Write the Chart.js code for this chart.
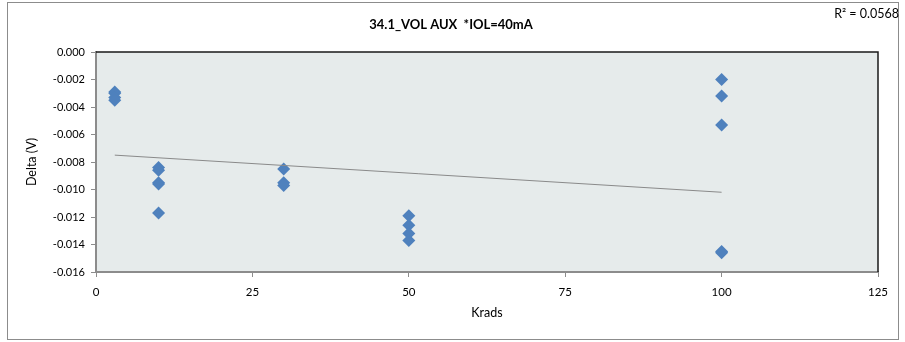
<!DOCTYPE html>
<html>
<head>
<meta charset="utf-8">
<script src="https://cdn.jsdelivr.net/npm/chart.js@4/dist/chart.umd.min.js"></script>
<style>
  html, body { margin: 0; padding: 0; background: #fff; }
  #wrap { width: 905px; height: 342px; }
</style>
</head>
<body>
<div id="wrap"><canvas id="deltaChart"></canvas></div>
<script>
// data
const krads = [3, 3, 3, 3, 10, 10, 10, 10, 10, 30, 30, 30, 50, 50, 50, 50, 100, 100, 100, 100, 100];
const delta = [-0.0029, -0.0030, -0.0033, -0.0035,
    -0.0084, -0.0086, -0.0095, -0.0096, -0.0117,
    -0.0085, -0.0095, -0.0097,
    -0.0119, -0.0126, -0.0132, -0.0137,
    -0.0020, -0.0032, -0.0053, -0.0145, -0.0146];
const trendX = [3, 100];
const trendY = [-0.0075, -0.0102];
const xTicks = [0, 25, 50, 75, 100, 125];
const yTicks = [0, -0.002, -0.004, -0.006, -0.008, -0.010, -0.012, -0.014, -0.016];
const rSquared = 'R² = 0.0568';

const FONT = 'Lato, "Open Sans", sans-serif';

// background, frame and R² label
const frame = {
    id: 'frame',
    beforeDraw(chart) {
        const {ctx, chartArea: a} = chart;
        ctx.save();
        ctx.fillStyle = '#e6ebeb';
        ctx.fillRect(a.left, a.top, a.right - a.left, a.bottom - a.top);
        ctx.restore();
    },
    afterDraw(chart) {
        const {ctx, chartArea: a} = chart;
        ctx.save();
        ctx.strokeStyle = '#1a1a1a';
        ctx.lineWidth = 1.5;
        ctx.beginPath();
        ctx.moveTo(a.left, a.top);
        ctx.lineTo(a.right, a.top);
        ctx.lineTo(a.right, a.bottom);
        ctx.stroke();
        ctx.strokeStyle = '#8c8c8c';
        ctx.lineWidth = 1;
        ctx.strokeRect(7.5, 2.5, 891, 337);
        ctx.fillStyle = '#000';
        ctx.font = '12.5px ' + FONT;
        ctx.textAlign = 'right';
        ctx.textBaseline = 'middle';
        ctx.fillText(rSquared, 899, 14);
        ctx.restore();
    }
};

const config = {
    type: 'scatter',
    data: {
        datasets: [
            {
                type: 'line',
                label: 'trend',
                data: trendX.map((x, i) => ({x: x, y: trendY[i]})),
                borderColor: '#8a8a8a',
                borderWidth: 1,
                pointRadius: 0
            },
            {
                label: 'Delta',
                data: krads.map((x, i) => ({x: x, y: delta[i]})),
                pointStyle: 'rectRot',
                pointRadius: 6.5,
                pointHoverRadius: 6.5,
                backgroundColor: '#4f81bd',
                borderColor: '#4f81bd',
                borderWidth: 0
            }
        ]
    },
    options: {
        responsive: true,
        maintainAspectRatio: false,
        animation: false,
        layout: {
            padding: {left: 24, right: 27, top: 0, bottom: 18}
        },
        scales: {
            x: {
                type: 'linear',
                min: 0,
                max: 125,
                afterBuildTicks: s => { s.ticks = xTicks.map(v => ({value: v})); },
                afterFit: s => { s.height = 52; },
                grid: {drawOnChartArea: false, drawTicks: true, tickLength: 5, color: '#8c8c8c'},
                border: {color: '#8c8c8c', width: 2},
                ticks: {color: '#000', font: {family: FONT, size: 11.5}, padding: 8, maxRotation: 0},
                title: {display: true, text: 'Krads', color: '#000', font: {family: FONT, size: 12.5}, padding: {top: 12}}
            },
            y: {
                min: -0.016,
                max: 0,
                afterBuildTicks: s => { s.ticks = yTicks.map(v => ({value: v})); },
                afterFit: s => { s.width = 72; },
                grid: {drawOnChartArea: false, drawTicks: true, tickLength: 5, color: '#8c8c8c'},
                border: {color: '#8c8c8c', width: 2},
                ticks: {color: '#000', font: {family: FONT, size: 11}, padding: 6,
                    callback: v => v.toFixed(3)},
                title: {display: true, text: 'Delta (V)', color: '#000', font: {family: FONT, size: 12.5}, padding: 0}
            }
        },
        plugins: {
            legend: {display: false},
            tooltip: {enabled: false},
            title: {
                display: true,
                text: '34.1_VOL AUX  *IOL=40mA',
                color: '#000',
                font: {family: FONT, size: 13, weight: 'bold', lineHeight: 1.2},
                padding: {top: 17, bottom: 19.4}
            }
        }
    },
    plugins: [frame]
};

const deltaChart = new Chart(document.querySelector('#deltaChart'), config);
</script>
</body>
</html>
